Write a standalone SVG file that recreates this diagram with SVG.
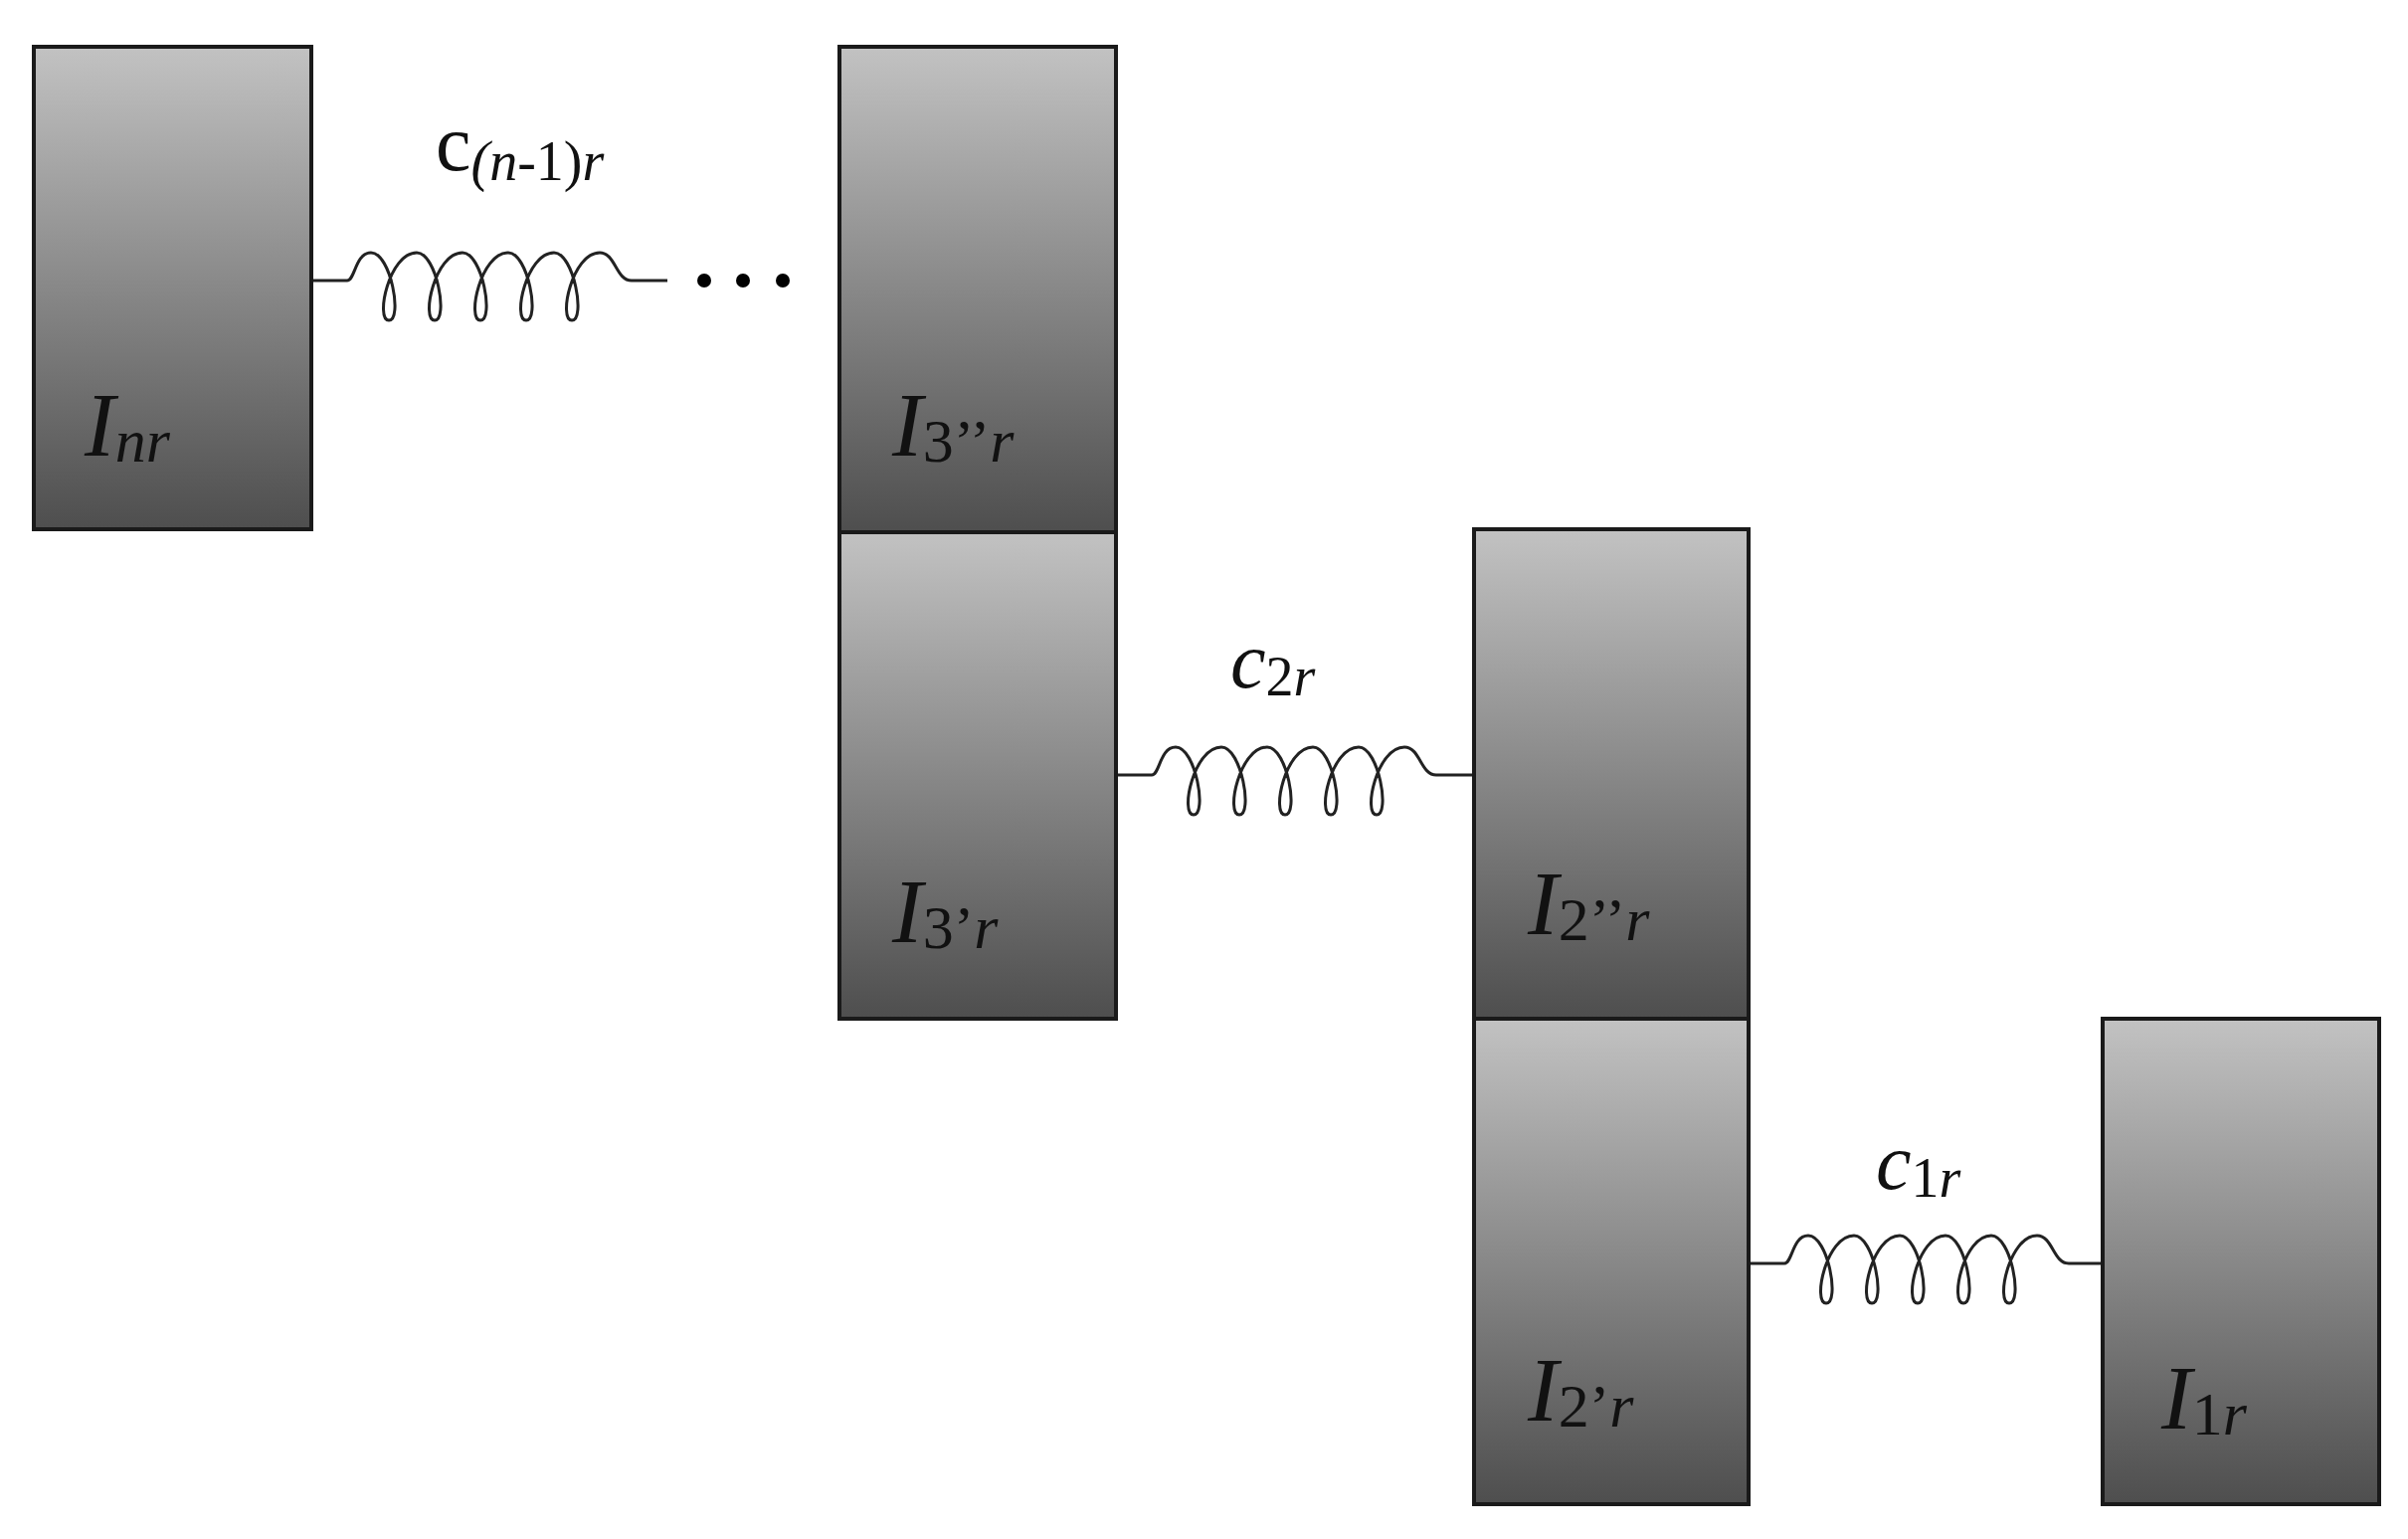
<svg xmlns="http://www.w3.org/2000/svg" xmlns:xlink="http://www.w3.org/1999/xlink" width="2421" height="1547" viewBox="0 0 2421 1547">
<style>
.box{fill:url(#g);stroke:#1a1a1a;stroke-width:4}
.sp{fill:none;stroke:#222;stroke-width:3}
.lb{font-family:"Liberation Serif",serif;font-style:italic;fill:#111;font-size:92px}
.sb{font-size:62px}
.cl{font-family:"Liberation Serif",serif;fill:#111;font-size:80px}
</style>
<defs>
<linearGradient id="g" x1="0" y1="0" x2="0" y2="1">
<stop offset="0" stop-color="#c2c2c2"/><stop offset="1" stop-color="#4e4e4e"/>
</linearGradient>
<path id="spring" d="M0,0 H36 C44,0 44,-28 60,-28 C80,-28 92,40 78,40 C64,40 78,-28 106,-28 C126,-28 138,40 124,40 C110,40 124,-28 152,-28 C172,-28 184,40 170,40 C156,40 170,-28 198,-28 C218,-28 230,40 216,40 C202,40 216,-28 244,-28 C264,-28 276,40 262,40 C248,40 262,-28 290,-28 C306,-28 306,0 322,0 H358"/>
</defs>
<g id="connectors">
<use xlink:href="#spring" class="sp" transform="translate(313,282)"/>
<use xlink:href="#spring" class="sp" transform="translate(1122,779)"/>
<use xlink:href="#spring" class="sp" transform="translate(1758,1270)"/>
<circle cx="708" cy="282" r="7" fill="#000"/><circle cx="747" cy="282" r="7" fill="#000"/><circle cx="787" cy="282" r="7" fill="#000"/>
<text class="cl" x="438" y="171">c<tspan font-size="56" font-style="italic" dy="10">(n</tspan><tspan font-size="56">-1)</tspan><tspan font-size="56" font-style="italic">r</tspan></text>
<text class="cl" x="1237" y="691" font-style="italic">c<tspan font-size="56" font-style="normal" dy="8">2</tspan><tspan font-size="56">r</tspan></text>
<text class="cl" x="1886" y="1195" font-style="italic">c<tspan font-size="56" font-style="normal" dy="8">1</tspan><tspan font-size="56">r</tspan></text>
</g>
<g id="Inr"><rect class="box" x="34" y="47" width="279" height="485"/><text class="lb" x="85" y="458">I<tspan class="sb" dy="6">nr</tspan></text></g>
<g id="I3pp"><rect class="box" x="844" y="47" width="278" height="488"/><text class="lb" x="897" y="458">I<tspan class="sb" dy="6" font-style="normal">3’’</tspan><tspan class="sb">r</tspan></text></g>
<g id="I3p"><rect class="box" x="844" y="535" width="278" height="489"/><text class="lb" x="897" y="947">I<tspan class="sb" dy="6" font-style="normal">3’</tspan><tspan class="sb">r</tspan></text></g>
<g id="I2pp"><rect class="box" x="1482" y="532" width="276" height="492"/><text class="lb" x="1536" y="939">I<tspan class="sb" dy="6" font-style="normal">2’’</tspan><tspan class="sb">r</tspan></text></g>
<g id="I2p"><rect class="box" x="1482" y="1024" width="276" height="488"/><text class="lb" x="1536" y="1428">I<tspan class="sb" dy="6" font-style="normal">2’</tspan><tspan class="sb">r</tspan></text></g>
<g id="I1"><rect class="box" x="2114" y="1024" width="278" height="488"/><text class="lb" x="2173" y="1436">I<tspan class="sb" dy="6" font-style="normal">1</tspan><tspan class="sb">r</tspan></text></g>
</svg>
